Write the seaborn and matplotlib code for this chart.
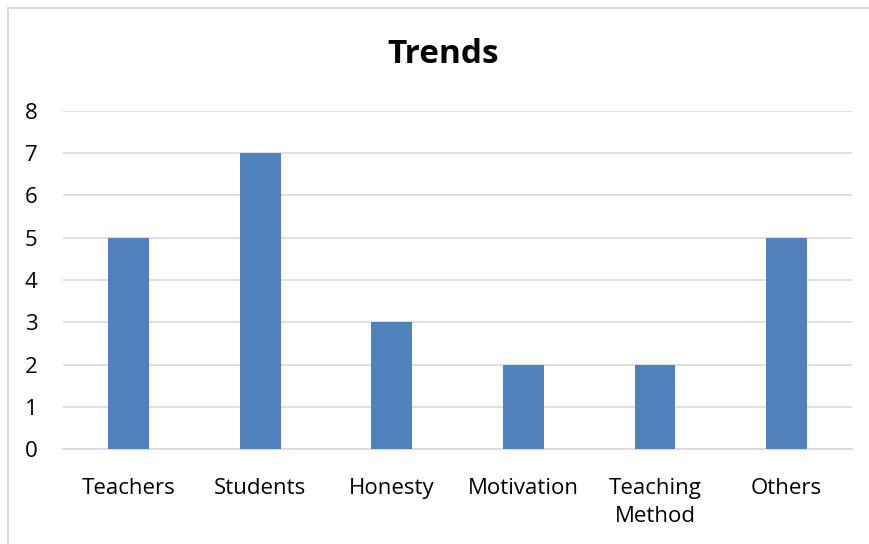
import matplotlib
matplotlib.use("Agg")
import matplotlib.pyplot as plt
import seaborn as sns
import pandas as pd
from matplotlib.patches import Rectangle

categories = ["Teachers", "Students", "Honesty", "Motivation", "Teaching\nMethod", "Others"]
counts = [5, 7, 3, 2, 2, 5]
y_ticks = [0, 1, 2, 3, 4, 5, 6, 7, 8]

df = pd.DataFrame({"category": categories, "count": counts})

sns.set_theme(style="white")
plt.rcParams["font.family"] = ["Open Sans", "DejaVu Sans"]

fig = plt.figure(figsize=(8.7, 5.44), dpi=100)
ax = fig.add_axes([0.0721, 0.1746, 0.9076, 0.6214])

sns.barplot(data=df, x="category", y="count", color="#4F81BD", width=0.31,
            saturation=1, ax=ax, zorder=3, edgecolor="none")

ax.set_ylim(0, 8)
ax.set_xlim(-0.5, len(categories) - 0.5)
ax.set_yticks(y_ticks)
ax.yaxis.grid(True, color="#D9D9D9", linewidth=1.2, zorder=0)
ax.set_axisbelow(True)
for side in ["top", "right", "left"]:
    ax.spines[side].set_visible(False)
ax.spines["bottom"].set_color("#D9D9D9")
ax.spines["bottom"].set_linewidth(1.2)
ax.tick_params(axis="both", length=0, labelsize=16, colors="#000000")
ax.tick_params(axis="y", pad=18)
ax.tick_params(axis="x", pad=21)
for lbl in ax.get_xticklabels():
    lbl.set_linespacing(1.45)
ax.set_xlabel("")
ax.set_ylabel("")

fig.text(0.509, 0.884, "Trends", ha="center", va="baseline",
         fontsize=24, fontweight="bold", color="#000000")

# chart area outline
fig.patches.append(Rectangle((8 / 870, -0.1), 1.2, (536 / 544) + 0.1,
                             transform=fig.transFigure, fill=False,
                             edgecolor="#D9D9D9", linewidth=1.5))

fig.savefig("out.png", dpi=100)
